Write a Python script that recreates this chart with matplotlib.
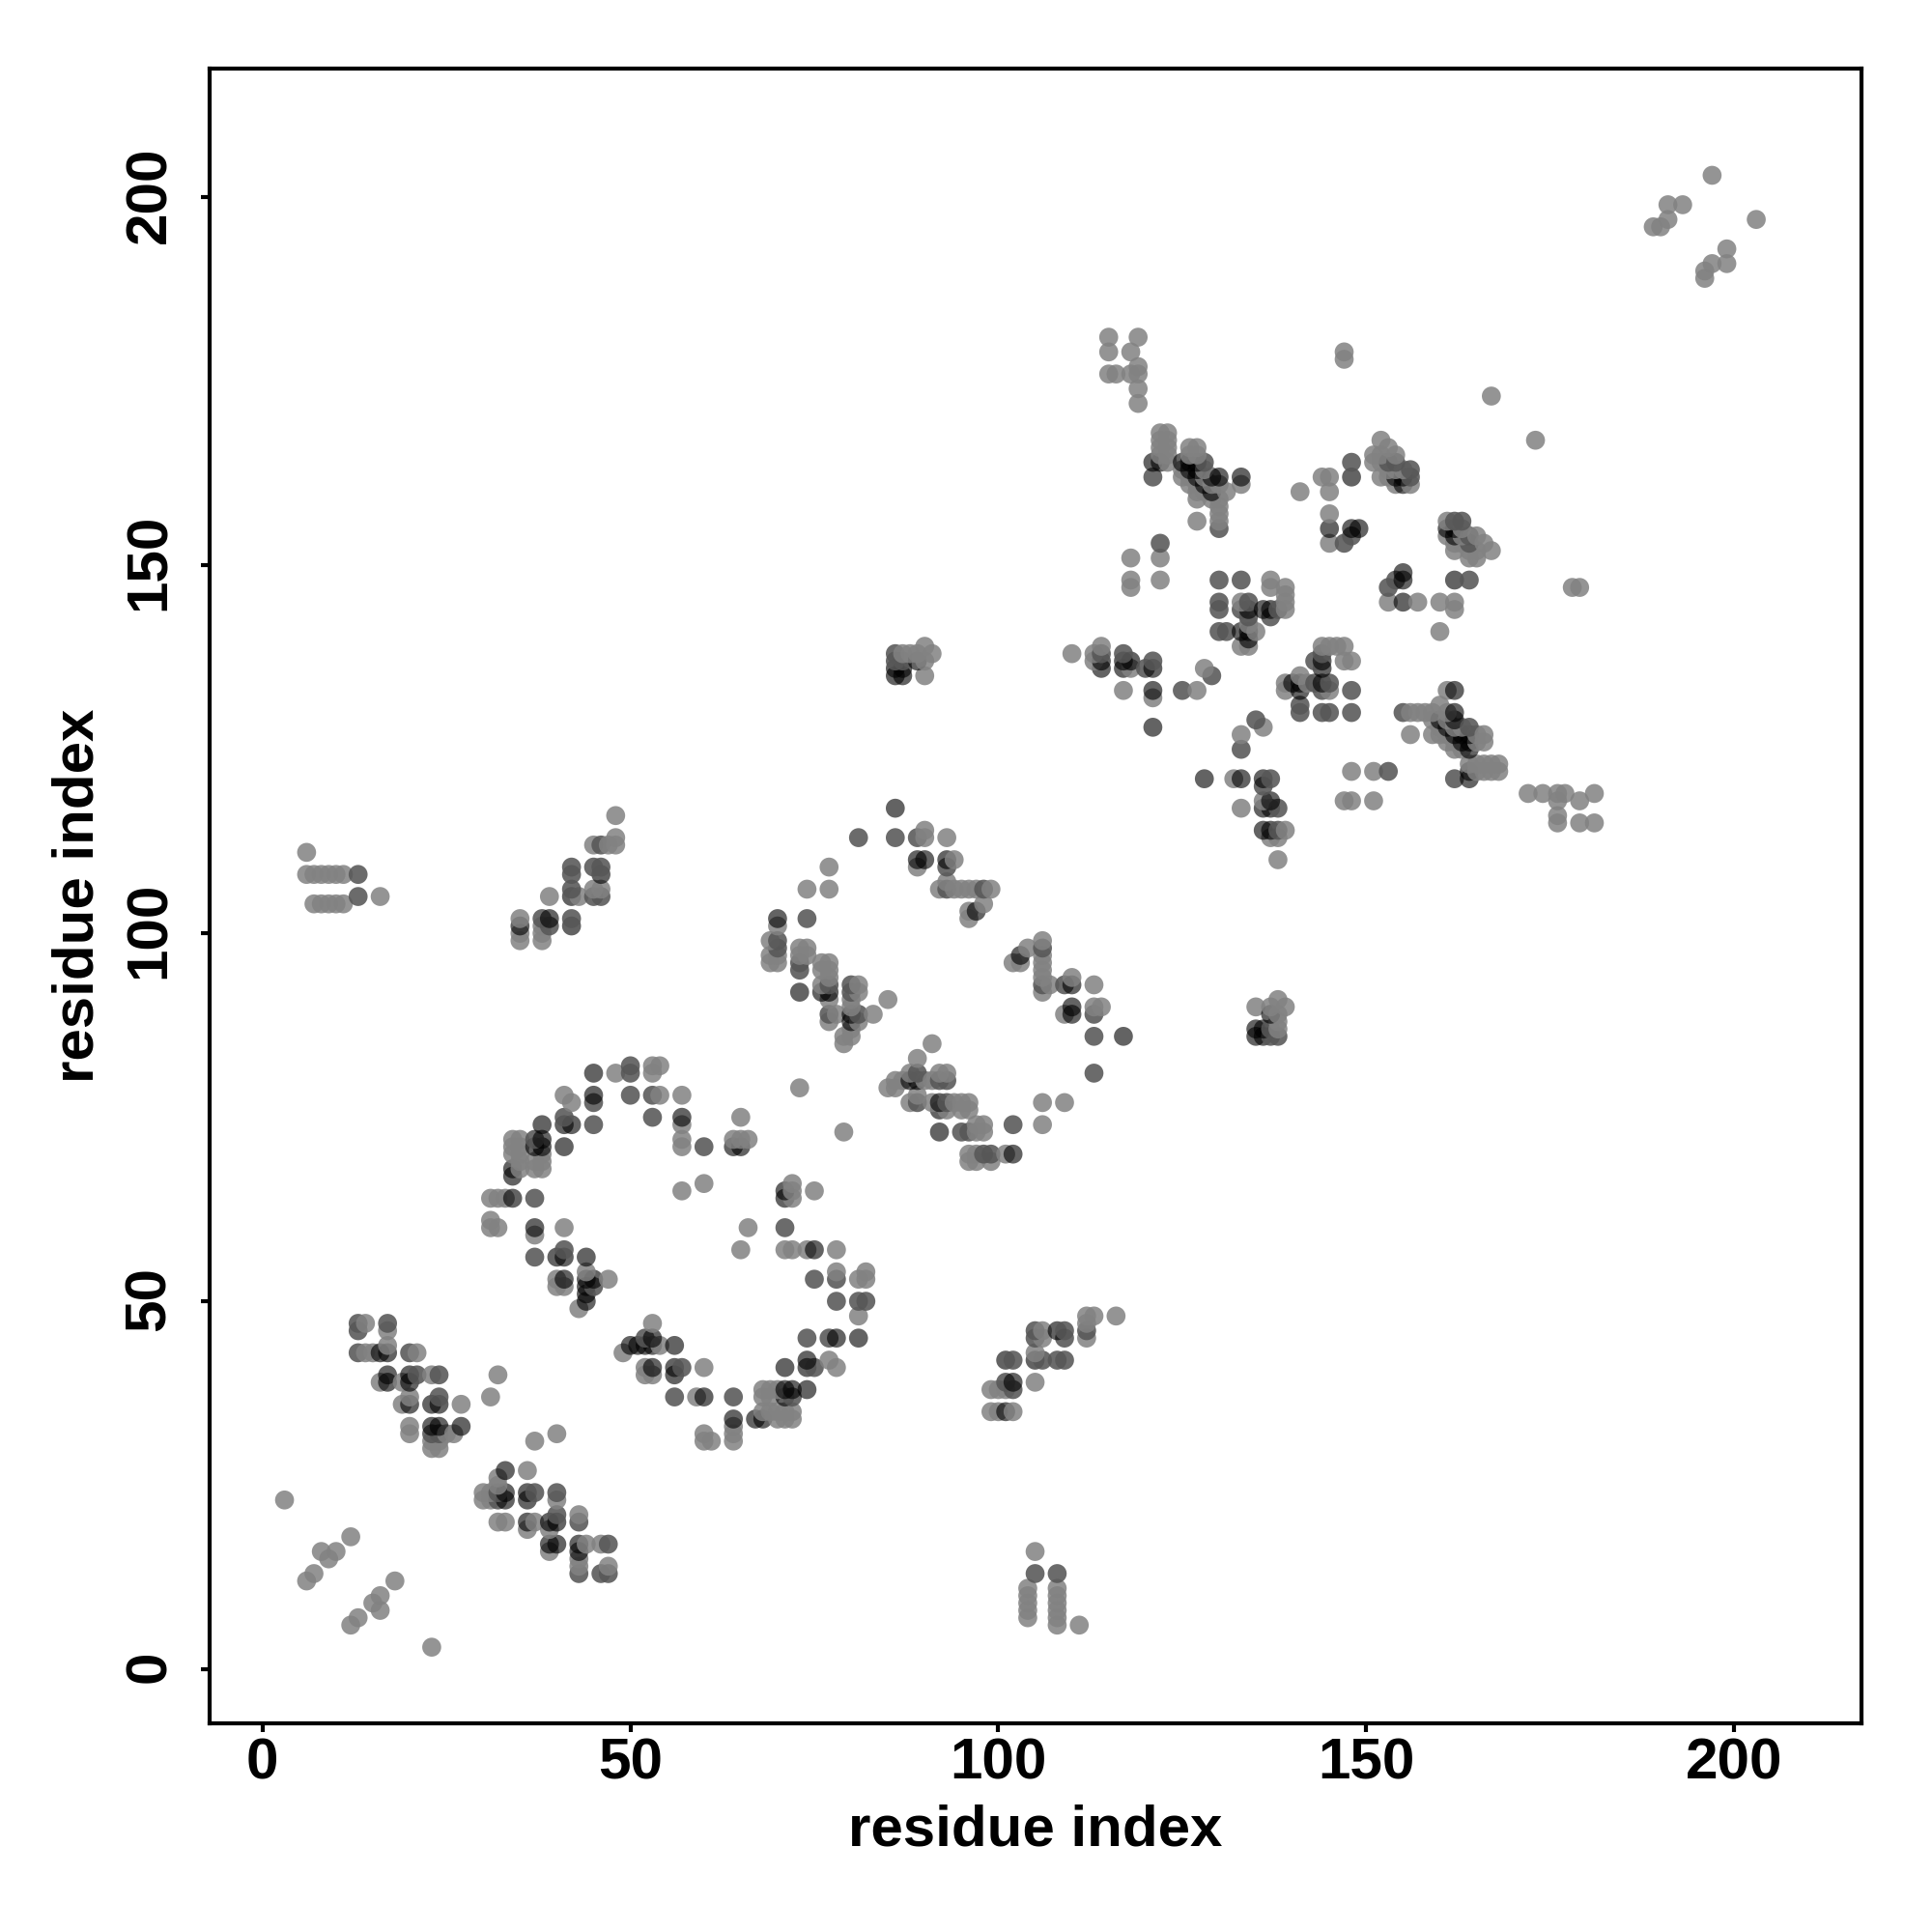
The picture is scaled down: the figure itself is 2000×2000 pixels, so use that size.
import matplotlib
matplotlib.use("Agg")
import matplotlib.pyplot as plt
from matplotlib.transforms import ScaledTranslation

# Contacts are symmetric; each row is (residue j, [residues i < j])
contacts_low = [
    (12, [6]), (13, [7]), (15, [9]), (16, [8, 10]), (18, [12]), (23, [3]),
    (30, [23, 24]), (31, [23, 24]), (32, [20, 23, 24, 25, 26]),
    (33, [20, 23, 24, 27]), (36, [19, 20, 23, 24, 27]), (37, [20, 24, 31]),
    (39, [16, 17, 19, 20]), (40, [17, 20, 21, 23, 24, 32]),
    (43, [13, 14, 15, 16, 17, 20, 21]), (44, [17]), (46, [13, 17]), (47, [13, 14, 17]),
]
contacts_ring = [
    (49, [43]), (50, [44]), (51, [44]), (52, [40, 41, 44, 45]), (53, [40, 41, 44, 45, 47]),
    (54, [44]), (56, [37, 40, 41, 44]), (57, [41]), (59, [37]), (60, [31, 32, 37, 41]),
    (61, [31]), (64, [31, 32, 33, 34, 37]), (65, [57]), (66, [60]), (67, [34]),
    (68, [34, 35, 37, 38]), (69, [35, 37, 38]), (70, [34, 35, 38]),
    (71, [34, 35, 37, 38, 41, 57, 60, 64, 65]), (72, [34, 35, 37, 38, 57, 64, 65, 66]),
    (74, [38, 41, 42, 45, 57]), (75, [41, 53, 57, 65]), (77, [42, 45]),
    (78, [41, 45, 50, 53, 54, 57]), (79, [73]), (81, [45, 48, 50, 53]), (82, [50, 53, 54]),
]
contacts_helix = [
    (99, [35, 38]), (100, [35, 38]), (101, [35, 38, 39, 42]), (102, [35, 38, 39, 42]),
    (104, [7, 8, 9, 10, 11]), (105, [13, 16, 39, 42, 43, 45, 46]), (106, [42, 45, 46]),
    (108, [6, 7, 8, 9, 10, 11, 13, 42, 46]), (109, [42, 45, 46]), (111, [6]),
    (112, [45, 46, 47, 48]), (113, [48]), (116, [48]),
]
contacts_mid = [
    (85, [79]), (86, [79, 80]), (87, [80]), (88, [77, 80, 81]), (89, [77, 78, 80, 81, 83]),
    (90, [80]), (91, [77, 80, 85]), (92, [73, 76, 77, 80, 81]), (93, [76, 77, 80, 81]),
    (94, [77]), (95, [73, 76, 77]), (96, [69, 70, 73, 76, 77]), (97, [69, 70, 73, 74]),
    (98, [70, 73, 74]), (99, [69, 70]), (101, [70]), (102, [70, 74, 96]), (103, [96, 97]),
    (104, [98]), (106, [74, 77, 92, 93, 94, 95, 96, 97, 98, 99]), (107, [93]),
    (109, [77, 89, 93]), (110, [89, 90, 93, 94]), (113, [81, 86, 89, 90, 93]),
    (114, [90]), (117, [86]),
]
contacts_high = [
    (128, [121]), (132, [121]), (133, [117, 121, 125, 127]), (135, [86, 87, 90, 129]),
    (136, [86, 87, 114, 117, 118, 120, 121, 128]),
    (137, [86, 87, 89, 90, 113, 114, 117, 118, 121]),
    (138, [86, 87, 88, 89, 91, 110, 113, 114, 117]), (139, [90, 114, 133, 134]),
    (140, [134]), (141, [130, 131, 133, 134, 135]), (142, [134]), (143, [134, 137]),
    (144, [130, 133, 134, 136, 137, 138, 139]), (145, [130, 133, 134, 139]), (146, [139]),
    (147, [118, 137, 139]), (148, [118, 122, 130, 133, 137]), (151, [118, 122]),
    (153, [122, 145, 147]), (154, [148]), (155, [130, 145, 148, 149]), (156, [127, 130]),
    (157, [130, 145]), (158, [130]), (159, [127, 129, 130]),
    (160, [127, 128, 129, 131, 141, 145]),
    (161, [126, 127, 128, 129, 130, 133, 154, 155, 156]),
    (162, [121, 125, 126, 127, 128, 129, 130, 133, 144, 145, 148, 152, 153, 154, 155, 156]),
    (163, [125, 126, 127, 128, 153, 154, 155, 156]),
    (164, [121, 122, 123, 125, 126, 127, 128, 148, 151, 152, 153, 154]),
    (165, [122, 123, 126, 127, 151, 152, 154]), (166, [122, 123, 126, 127, 153]),
    (167, [122, 123, 152]), (168, [122, 123]), (172, [119]), (173, [167]), (174, [119]),
    (176, [115, 116, 118, 119]), (177, [119]), (178, [147]), (179, [115, 118, 147]),
    (181, [115, 119]), (196, [189, 190]), (197, [191]), (199, [191, 193]), (203, [197]),
]
# contacts that read as mid grey and as dark grey in the picture: (i, j)
medium_pairs = [
    (13, 43), (13, 46), (13, 47), (17, 47), (24, 32), (23, 32), (24, 37), (24, 40), (21, 40), (20, 43),
    (45, 77), (50, 78), (53, 78), (41, 75), (45, 74), (37, 72), (60, 71), (37, 64), (37, 56), (41, 57),
    (50, 44), (57, 41), (56, 40), (74, 45), (77, 45), (53, 75), (50, 81), (50, 82),
    (86, 113), (81, 113), (89, 113), (89, 110), (90, 110), (93, 109), (98, 106), (74, 102), (73, 96), (80, 92),
    (80, 93), (81, 89), (77, 89), (113, 86), (93, 106), (77, 93), (73, 95), (70, 99), (70, 98),
    (130, 155), (128, 164), (153, 164), (154, 164), (156, 162), (156, 163), (148, 164), (154, 148), (147, 153),
    (122, 153), (130, 148), (133, 144), (134, 145), (134, 143), (137, 143), (138, 144), (114, 138), (117, 138),
    (121, 137), (120, 136), (144, 137), (133, 148), (121, 162), (86, 137), (86, 138),
    (87, 137), (42, 108), (42, 109), (45, 109), (46, 109), (42, 106), (38, 102), (13, 108), (13, 105), (46, 112),
    (46, 105), (45, 105), (125, 133), (129, 135), (45, 52), (39, 101), (42, 102), (155, 149),
    (130, 144), (130, 145), (130, 141), (131, 141),
]
dark_pairs = [
    (27, 33), (23, 33), (24, 33), (23, 36), (24, 36), (20, 36), (20, 39), (20, 40), (17, 40), (17, 39), (17, 43),
    (16, 43), (45, 81), (45, 78), (38, 74), (41, 74), (42, 74), (57, 75), (37, 71), (38, 71),
    (38, 72), (41, 71), (64, 71), (65, 71), (34, 68), (34, 67), (34, 64), (37, 60), (40, 56), (41, 56), (44, 56),
    (41, 53), (44, 52), (44, 51), (45, 53), (44, 50), (44, 53),
    (86, 117), (93, 110), (97, 103), (70, 102), (73, 92), (76, 92), (77, 92), (80, 89), (80, 88),
    (92, 76), (110, 89), (110, 90), (102, 97),
    (121, 164), (125, 164), (126, 163), (127, 162), (128, 161), (130, 162), (133, 162), (129, 160), (127, 163),
    (154, 162), (155, 161), (155, 162), (148, 162), (148, 155), (149, 155), (155, 148), (155, 145),
    (134, 144), (137, 144), (134, 141), (134, 140), (114, 137),
    (114, 136), (117, 137), (117, 136), (118, 137), (121, 136), (121, 133), (121, 128), (141, 134), (144, 134),
    (144, 136), (141, 133), (162, 129), (163, 127), (164, 127), (164, 126), (164, 122),
    (164, 121), (86, 135), (87, 135), (86, 136), (87, 136), (89, 137), (42, 105), (46, 108), (35, 101), (39, 102),
    (42, 101), (145, 155),
]
axis_label = "residue index"
tick_values = [0, 50, 100, 150, 200]

plt.rcParams["font.family"] = ["Liberation Sans", "DejaVu Sans"]
plt.rcParams["font.weight"] = "bold"


def expand(rows):
    return [(i, j) for j, values in rows for i in values]


def key(pair):
    return (min(pair), max(pair))


pairs = []
for rows in (contacts_low, contacts_ring, contacts_helix, contacts_mid, contacts_high):
    pairs += expand(rows)

medium = {key(p) for p in medium_pairs}
dark = {key(p) for p in dark_pairs}
LIGHT = (0.51, 0.51, 0.51, 0.85)
MEDIUM = (0.34, 0.34, 0.34, 0.88)
DARK = (0.0, 0.0, 0.0, 0.61)

points = []
for i, j in pairs:
    k = key((i, j))
    colour = DARK if k in dark else MEDIUM if k in medium else LIGHT
    points.append((i, j, colour))
    points.append((j, i, colour))
points.sort(key=lambda p: (p[0] + p[1], p[1]))

fig = plt.figure(figsize=(10, 10), dpi=200)
ax = fig.add_axes([217 / 2000, 1 - 1784 / 2000, 1710 / 2000, 1713 / 2000])
ax.scatter([p[0] for p in points], [p[1] for p in points], s=50,
           c=[p[2] for p in points], linewidths=0, zorder=2)

ax.set_xlim(-7.18, 217.3)
ax.set_ylim(-7.35, 217.5)
ax.set_xticks(tick_values)
ax.set_yticks(tick_values)
ax.tick_params(axis="x", length=3.4, width=1.5, labelsize=21.7, pad=2)
ax.tick_params(axis="y", length=3.4, width=1.5, labelsize=21.7, pad=8.8)
nudge = ScaledTranslation(0, 3 / 200, fig.dpi_scale_trans)
for label in ax.get_yticklabels():
    label.set_rotation(90)
    label.set_va("center")
    label.set_transform(label.get_transform() + nudge)
for spine in ax.spines.values():
    spine.set_linewidth(1.5)
ax.set_xlabel(axis_label, fontsize=21.6, fontweight="bold", va="center")
ax.set_ylabel(axis_label, fontsize=21.6, fontweight="bold", va="center")
ax.xaxis.set_label_coords(0.5, (1784 - 1895) / 1713)
ax.yaxis.set_label_coords((81.5 - 217) / 1710, 0.5)
fig.savefig("out.png", dpi=200, facecolor="white")
